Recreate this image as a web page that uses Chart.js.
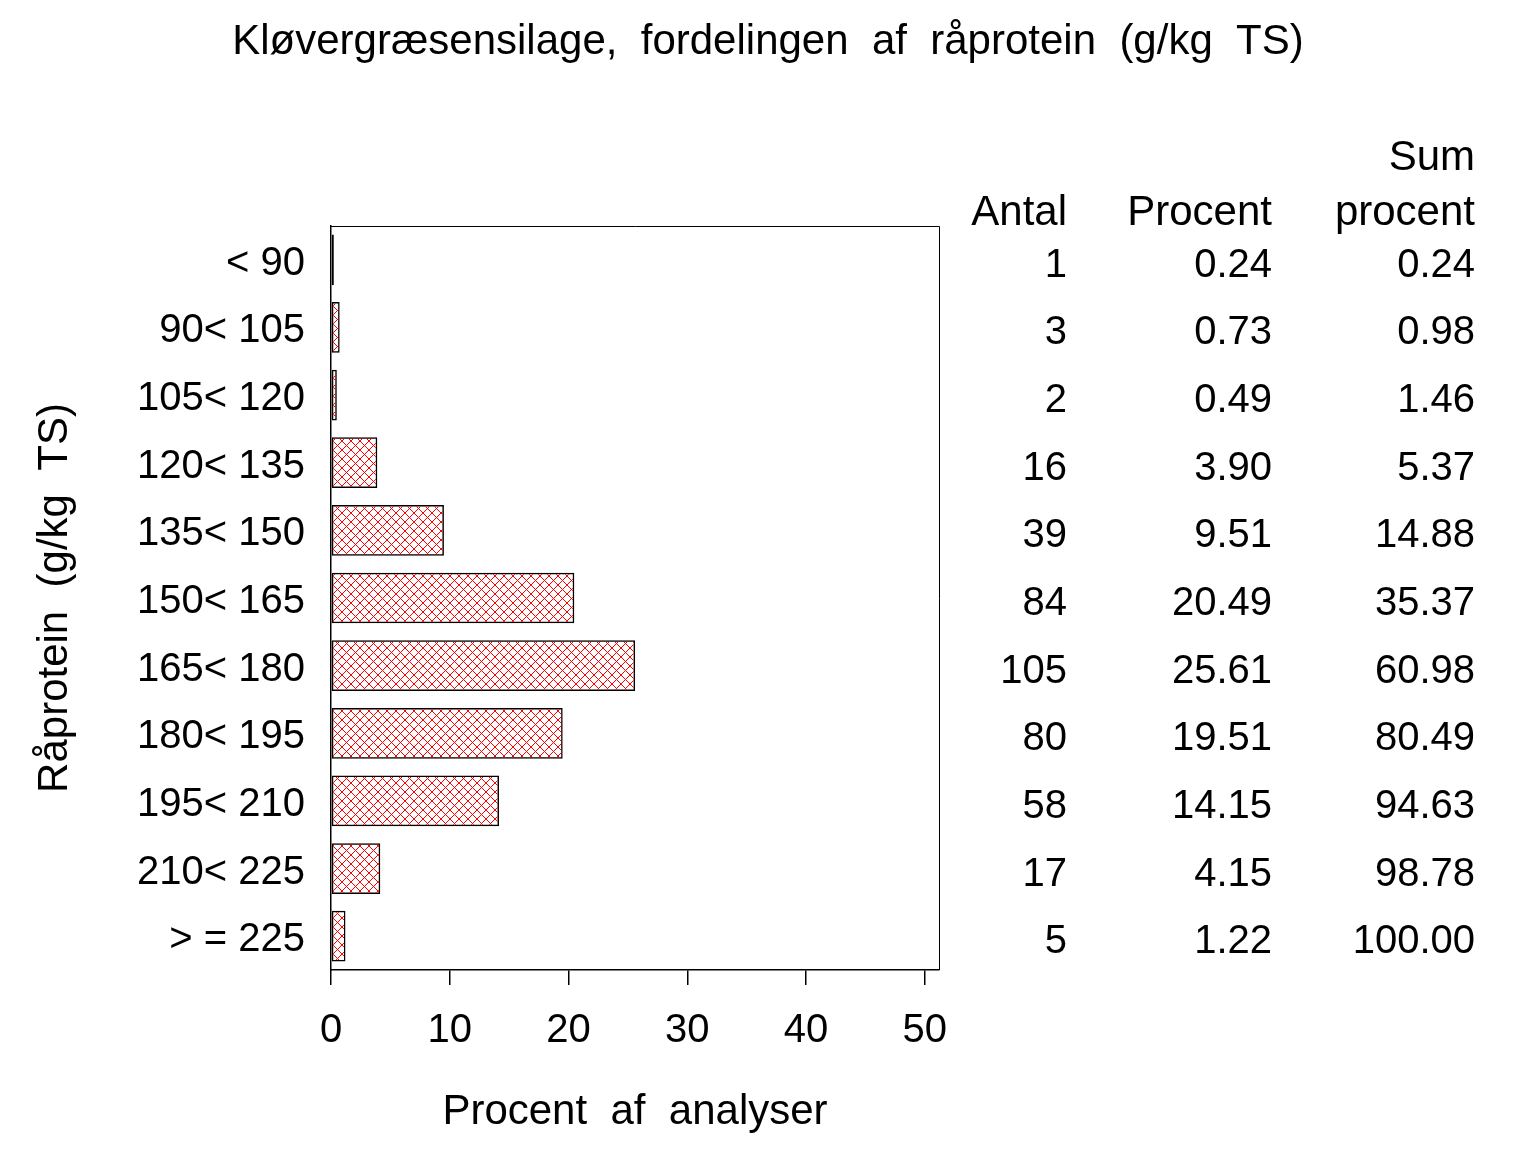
<!DOCTYPE html>
<html>
<head>
<meta charset="utf-8">
<script src="https://cdn.jsdelivr.net/npm/chart.js@4"></script>
<style>
  html, body { margin: 0; padding: 0; background: #fff; }
  #wrap { width: 1536px; height: 1152px; }
</style>
</head>
<body>
<div id="wrap"><canvas id="chart" width="1536" height="1152"></canvas></div>
<script>
/* data */
const classes = ["< 90", "90< 105", "105< 120", "120< 135", "135< 150", "150< 165",
  "165< 180", "180< 195", "195< 210", "210< 225", "> = 225"];
const antal = [1, 3, 2, 16, 39, 84, 105, 80, 58, 17, 5];
const procent = [0.24, 0.73, 0.49, 3.90, 9.51, 20.49, 25.61, 19.51, 14.15, 4.15, 1.22];
const sumProcent = [0.24, 0.98, 1.46, 5.37, 14.88, 35.37, 60.98, 80.49, 94.63, 98.78, 100.00];
const xTicks = [0, 10, 20, 30, 40, 50];
const xMax = 51.2;

const FONT = "'Liberation Sans', Arial, sans-serif";

/* red cross hatch, crisp 1px lines */
function hatch() {
  const n = 9;
  const c = document.createElement("canvas");
  c.width = n; c.height = n;
  const g = c.getContext("2d");
  g.fillStyle = "#ff0000";
  for (let i = 0; i < n; i++) {
    g.fillRect(i, i, 1, 1);
    g.fillRect(n - 1 - i, i, 1, 1);
  }
  return g.createPattern(c, "repeat");
}

/* title, frame and table on the right */
const extras = {
  id: "extras",
  afterDraw(chart) {
    const { ctx, chartArea: a } = chart;
    const y = chart.scales.y;
    ctx.save();
    ctx.strokeStyle = "#000";
    ctx.lineWidth = 1;
    ctx.beginPath();
    ctx.moveTo(a.left, a.top + 0.5);
    ctx.lineTo(a.right + 0.5, a.top + 0.5);
    ctx.lineTo(a.right + 0.5, a.bottom);
    ctx.stroke();

    ctx.fillStyle = "#000";
    ctx.textBaseline = "middle";
    ctx.textAlign = "center";
    ctx.font = "42px " + FONT;
    ctx.fillText("Kløvergræsensilage,  fordelingen  af  råprotein  (g/kg  TS)", 768, 42);

    const cols = [1067, 1272, 1475];
    ctx.textAlign = "right";
    const y0 = y.getPixelForValue(0);
    ctx.fillText("Antal", cols[0], y0 - 46);
    ctx.fillText("Procent", cols[1], y0 - 46);
    ctx.fillText("Sum", cols[2], y0 - 101);
    ctx.fillText("procent", cols[2], y0 - 46);
    ctx.font = "40px " + FONT;
    classes.forEach((c, i) => {
      const py = y.getPixelForValue(i) + 6;
      ctx.fillText(String(antal[i]), cols[0], py);
      ctx.fillText(procent[i].toFixed(2), cols[1], py);
      ctx.fillText(sumProcent[i].toFixed(2), cols[2], py);
    });
    ctx.restore();
  }
};

const ctx = document.getElementById("chart").getContext("2d");
const chart = new Chart(ctx, {
  type: "bar",
  data: {
    labels: classes,
    datasets: [{
      data: procent,
      backgroundColor: hatch(),
      borderColor: "#000",
      borderWidth: 1.5,
      borderSkipped: false,
      barPercentage: 0.75,
      categoryPercentage: 1
    }]
  },
  options: {
    indexAxis: "y",
    responsive: false,
    animation: false,
    layout: { padding: { left: 0, top: 226, right: 1536 - 939, bottom: 0 } },
    plugins: { legend: { display: false }, tooltip: { enabled: false }, title: { display: false } },
    scales: {
      x: {
        min: 0,
        max: xMax,
        afterFit: s => { s.height = 182; },
        afterBuildTicks: s => { s.ticks = xTicks.map(v => ({ value: v })); },
        grid: { display: true, drawOnChartArea: false, drawTicks: true, tickLength: 15, color: "#000", lineWidth: 1.5 },
        border: { display: true, color: "#000", width: 1.5 },
        ticks: { color: "#000", font: { family: FONT, size: 40 }, padding: 22, maxRotation: 0 },
        title: { display: true, text: "Procent  af  analyser", color: "#000",
          font: { family: FONT, size: 42 }, padding: { top: 0, bottom: 14 } }
      },
      y: {
        afterFit: s => { s.width = 331; },
        grid: { display: false, drawTicks: false },
        border: { display: true, color: "#000", width: 1.5 },
        ticks: { color: "#000", font: { family: FONT, size: 40 }, padding: 26, labelOffset: 4 },
        title: { display: true, text: "Råprotein  (g/kg  TS)", color: "#000",
          font: { family: FONT, size: 42 }, padding: { top: 30, bottom: 0 } }
      }
    }
  },
  plugins: [extras]
});
</script>
</body>
</html>
